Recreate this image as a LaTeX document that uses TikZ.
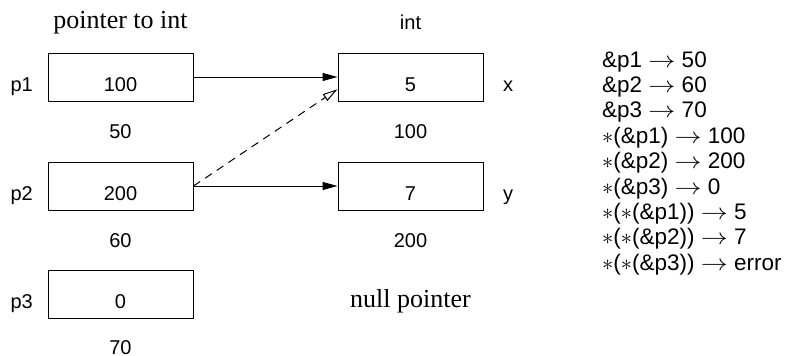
\documentclass[tikz,border=0pt]{standalone}
\usepackage{fix-cm}
\usepackage{graphicx}
\usepackage{fontspec}
\setmainfont{Liberation Serif}
\setsansfont{Liberation Sans}
\usetikzlibrary{arrows.meta,calc}
\newcommand{\myto}{\scalebox{1.2}[1]{$\rightarrow$}}
\tikzset{
  cell/.style={draw, line width=1pt, minimum width=145pt, minimum height=48pt, inner sep=0pt},
  sans/.style={font=\fontsize{20}{24}\selectfont\sffamily, inner sep=0pt},
  expr/.style={font=\fontsize{22.5}{26}\selectfont\sffamily, inner sep=0pt, anchor=base west},
  serif/.style={font=\fontsize{26}{30}\selectfont\rmfamily, inner sep=0pt},
  ptr/.style={line width=1pt, -{Triangle[length=15pt,width=8pt]}},
  dptr/.style={line width=1pt, dash pattern=on 8pt off 6pt, -{Triangle[open,length=15pt,width=8pt]}},
}
\begin{document}
\begin{tikzpicture}[x=1pt,y=-1pt]
\useasboundingbox (0,0) rectangle (788,356);
% headers
\node[serif, anchor=base] (hptr) at (120.5,28) {pointer to int};
\node[sans, anchor=base] (hint) at (410.5,29) {int};
% boxes
\node[cell] (b1) at (120.5,77) {};
\node[cell] (b2) at (120.5,186) {};
\node[cell] (b3) at (120.5,294.5) {};
\node[cell] (bx) at (410.5,77) {};
\node[cell] (by) at (410.5,186) {};
% box contents
\node[sans, anchor=base] (t1) at (120.5,91) {100};
\node[sans, anchor=base] (t2) at (120.5,200) {200};
\node[sans, anchor=base] (t3) at (120.5,308) {0};
\node[sans, anchor=base] (tx) at (410.5,91) {5};
\node[sans, anchor=base] (ty) at (410.5,200) {7};
% names
\node[sans, anchor=base east] (n1) at (33,91) {p1};
\node[sans, anchor=base east] (n2) at (33,200) {p2};
\node[sans, anchor=base east] (n3) at (33,308) {p3};
\node[sans, anchor=base west] (nx) at (503,91) {x};
\node[sans, anchor=base west] (ny) at (503,200) {y};
% addresses
\node[sans, anchor=base] (a1) at (120.5,138) {50};
\node[sans, anchor=base] (a2) at (120.5,247) {60};
\node[sans, anchor=base] (a3) at (120.5,354) {70};
\node[sans, anchor=base] (ax) at (410.5,138) {100};
\node[sans, anchor=base] (ay) at (410.5,247) {200};
\node[serif, anchor=base] (null) at (410.5,307) {null pointer};
% arrows
\coordinate (xin) at ($(bx.west)!0.5!(bx.south west)$);
\draw[ptr] (b1.east) -- (bx.west);
\draw[ptr] (b2.east) -- (by.west);
\draw[dptr] (b2.east) -- (xin);
% expressions
\node[expr] (e1) at (602,67) {\&p1 \myto{} 50};
\node[expr] (e2) at (602,92.4) {\&p2 \myto{} 60};
\node[expr] (e3) at (602,117.8) {\&p3 \myto{} 70};
\node[expr] (e4) at (602,143.2) {$\ast$(\&p1) \myto{} 100};
\node[expr] (e5) at (602,168.6) {$\ast$(\&p2) \myto{} 200};
\node[expr] (e6) at (602,194) {$\ast$(\&p3) \myto{} 0};
\node[expr] (e7) at (602,219.4) {$\ast$($\ast$(\&p1)) \myto{} 5};
\node[expr] (e8) at (602,244.8) {$\ast$($\ast$(\&p2)) \myto{} 7};
\node[expr] (e9) at (602,270.2) {$\ast$($\ast$(\&p3)) \myto{} error};
\end{tikzpicture}
\end{document}
